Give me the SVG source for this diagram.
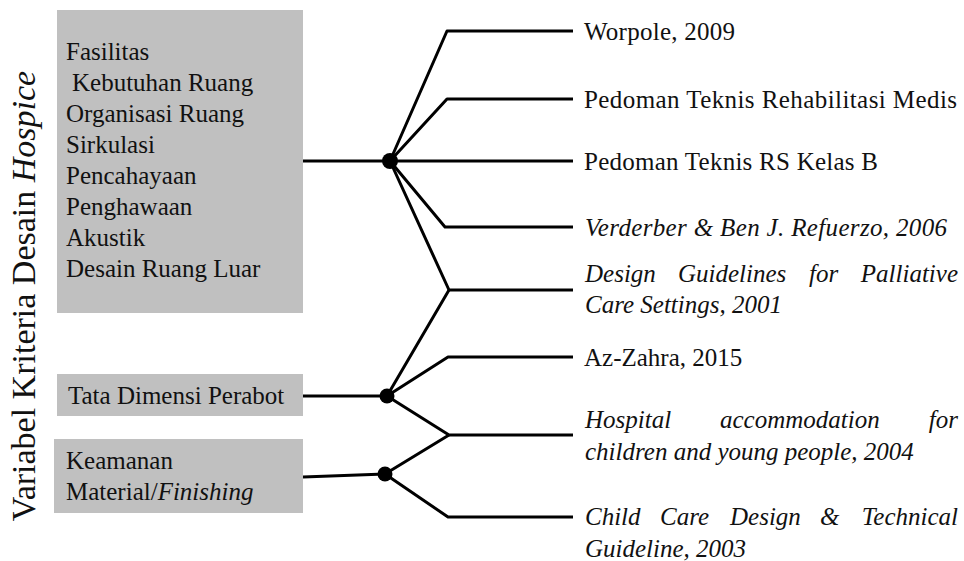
<svg xmlns="http://www.w3.org/2000/svg" width="964" height="561" viewBox="0 0 964 561">
<style>
text{font-family:"Liberation Serif","Times New Roman",serif;font-size:25px;fill:#111}
.i{font-style:italic}
.box{fill:#c0c0c0}
.ln{fill:none;stroke:#000;stroke-width:3;stroke-linejoin:round}
.dot{fill:#000}
</style>
<rect width="964" height="561" fill="#fff"/>
<g id="title">
<text transform="translate(35,296) rotate(-90)" text-anchor="middle" style="font-size:34px">Variabel Kriteria Desain <tspan class="i">Hospice</tspan></text>
</g>
<g id="connectors">
<path class="ln" d="M303,161 H573"/>
<path class="ln" d="M390,161 L447,31 H573"/>
<path class="ln" d="M390,161 L447,99 H573"/>
<path class="ln" d="M390,161 L445,227 H573"/>
<path class="ln" d="M390,161 L449,290 H573"/>
<path class="ln" d="M303,396 H387 L449,290"/>
<path class="ln" d="M387,396 L448,357 H573"/>
<path class="ln" d="M387,396 L449,435 H573"/>
<path class="ln" d="M303,477 L385,474 L449,435"/>
<path class="ln" d="M385,474 L448,517 H573"/>
<circle class="dot" cx="390" cy="161" r="8"/>
<circle class="dot" cx="387" cy="396" r="7.5"/>
<circle class="dot" cx="385" cy="474" r="7.5"/>
</g>
<g id="node-fasilitas">
<rect class="box" x="57" y="10" width="246" height="303"/>
<text x="66" y="60">Fasilitas</text>
<text x="72" y="91">Kebutuhan Ruang</text>
<text x="66" y="122">Organisasi Ruang</text>
<text x="66" y="153">Sirkulasi</text>
<text x="66" y="184">Pencahayaan</text>
<text x="66" y="215">Penghawaan</text>
<text x="66" y="246">Akustik</text>
<text x="66" y="277">Desain Ruang Luar</text>
</g>
<g id="node-perabot">
<rect class="box" x="57" y="374" width="246" height="42"/>
<text x="68" y="404">Tata Dimensi Perabot</text>
</g>
<g id="node-keamanan">
<rect class="box" x="54" y="439" width="249" height="74"/>
<text x="66" y="469">Keamanan</text>
<text x="66" y="500">Material/<tspan class="i">Finishing</tspan></text>
</g>
<g id="ref-worpole"><text x="584" y="40" textLength="151">Worpole, 2009</text></g>
<g id="ref-rehab"><text x="584" y="108" textLength="373">Pedoman Teknis Rehabilitasi Medis</text></g>
<g id="ref-rs"><text x="584" y="170" textLength="294">Pedoman Teknis RS Kelas B</text></g>
<g id="ref-verderber"><text class="i" x="585" y="236" textLength="362">Verderber &amp; Ben J. Refuerzo, 2006</text></g>
<g id="ref-palliative">
<text class="i" x="585" y="282">Design</text>
<text class="i" x="678" y="282">Guidelines</text>
<text class="i" x="809" y="282">for</text>
<text class="i" x="958" y="282" text-anchor="end">Palliative</text>
<text class="i" x="585" y="313">Care Settings, 2001</text>
</g>
<g id="ref-azzahra"><text x="584" y="366">Az-Zahra, 2015</text></g>
<g id="ref-hospital">
<text class="i" x="585" y="428">Hospital</text>
<text class="i" x="720" y="428">accommodation</text>
<text class="i" x="958" y="428" text-anchor="end">for</text>
<text class="i" x="585" y="460">children and young people, 2004</text>
</g>
<g id="ref-childcare">
<text class="i" x="585" y="525">Child</text>
<text class="i" x="660" y="525">Care</text>
<text class="i" x="730" y="525">Design</text>
<text class="i" x="820" y="525">&amp;</text>
<text class="i" x="958" y="525" text-anchor="end">Technical</text>
<text class="i" x="585" y="557">Guideline, 2003</text>
</g>
</svg>
